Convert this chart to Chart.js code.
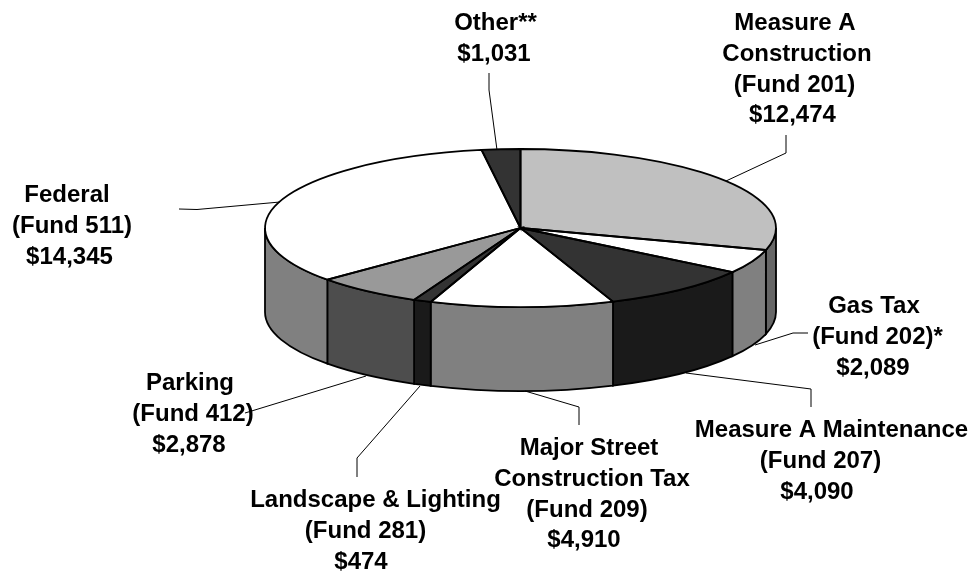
<!DOCTYPE html>
<html>
<head>
<meta charset="utf-8">
<title>Funding sources</title>
<script src="https://cdn.jsdelivr.net/npm/chart.js@4"></script>
<style>
    html, body { margin: 0; padding: 0; background: #fff; overflow: hidden; }
    canvas { display: block; }
</style>
</head>
<body>
<canvas id="fundChart" width="970" height="571"></canvas>
<script>
// Values (starting at 12 o'clock, clockwise)
const categories = ['Measure A Construction (Fund 201)', 'Gas Tax (Fund 202)*', 'Measure A Maintenance (Fund 207)',
    'Major Street Construction Tax (Fund 209)', 'Landscape & Lighting (Fund 281)', 'Parking (Fund 412)',
    'Federal (Fund 511)', 'Other**'];
const values = [12474, 2089, 4090, 4910, 474, 2878, 14345, 1031];
const topColors = ['#c0c0c0', '#ffffff', '#333333', '#ffffff', '#333333', '#999999', '#ffffff', '#333333'];
const sideColors = ['#666666', '#808080', '#1a1a1a', '#808080', '#1a1a1a', '#4d4d4d', '#808080', '#1a1a1a'];

// Label text, one list of lines per slice
const labelLines = [
    ['Measure A', 'Construction', '(Fund 201)', '$12,474'],
    ['Gas Tax', '(Fund 202)*', '$2,089'],
    ['Measure A Maintenance', '(Fund 207)', '$4,090'],
    ['Major Street', 'Construction Tax', '(Fund 209)', '$4,910'],
    ['Landscape & Lighting', '(Fund 281)', '$474'],
    ['Parking', '(Fund 412)', '$2,878'],
    ['Federal', '(Fund 511)', '$14,345'],
    ['Other**', '$1,031']
];
// the lines of a label don't share one centre in the picture, so each has its own
const labelCenterX = [
    [795, 797, 794.5, 792.5],
    [874, 877.5, 873],
    [831.5, 820.5, 817],
    [589, 592, 587, 584],
    [375.5, 365.5, 361],
    [190, 193, 189],
    [67, 72, 69.5],
    [495.5, 494]
];
const labelBaseY = [30, 313, 437, 455, 507, 390, 202, 30];
const labelLineGap = 30.8;

// Leader lines, from the label to the pie edge
const leaders = [
    [[786, 135], [786, 153], [726, 181]],
    [[808, 333], [793, 333], [755, 345]],
    [[811, 407], [811, 389], [686, 373]],
    [[579, 425], [579, 407], [525, 391]],
    [[357, 477], [357, 458], [420, 386]],
    [[245, 413], [366, 376]],
    [[179, 209], [197, 209.5], [280, 202]],
    [[489, 73], [489, 90], [497, 150]]
];

const PIE_X = 520.5, PIE_Y = 228, PIE_RX = 255.5, PIE_RY = 79, PIE_DEPTH = 84;

function sidePath(ctx, from, to) {
    ctx.beginPath();
    ctx.ellipse(PIE_X, PIE_Y, PIE_RX, PIE_RY, 0, from, to);
    ctx.ellipse(PIE_X, PIE_Y + PIE_DEPTH, PIE_RX, PIE_RY, 0, to, from, true);
    ctx.closePath();
}

const pie3d = {
    id: 'pie3d',
    beforeDatasetsDraw(chart) {
        const ctx = chart.ctx;
        const arcs = chart.getDatasetMeta(0).data;
        ctx.save();
        ctx.lineWidth = 1.8;
        ctx.strokeStyle = '#000';
        // rim of the pie, only the part facing the viewer
        arcs.forEach((arc, i) => {
            const from = Math.max(arc.startAngle, 0);
            const to = Math.min(arc.endAngle, Math.PI);
            if (to <= from) return;
            sidePath(ctx, from, to);
            ctx.fillStyle = sideColors[i];
            ctx.fill();
            ctx.stroke();
        });
        ctx.restore();
        // flatten the library's own arcs into the tilted top face
        const first = arcs[0];
        ctx.save();
        ctx.translate(PIE_X, PIE_Y);
        ctx.scale(PIE_RX / first.outerRadius, PIE_RY / first.outerRadius);
        ctx.translate(-first.x, -first.y);
    },
    afterDatasetsDraw(chart) {
        const ctx = chart.ctx;
        ctx.restore();
        const arcs = chart.getDatasetMeta(0).data;
        ctx.save();
        ctx.lineWidth = 1.8;
        ctx.strokeStyle = '#000';
        arcs.forEach(arc => {
            ctx.beginPath();
            ctx.moveTo(PIE_X, PIE_Y);
            ctx.ellipse(PIE_X, PIE_Y, PIE_RX, PIE_RY, 0, arc.startAngle, arc.endAngle);
            ctx.closePath();
            ctx.stroke();
        });
        ctx.lineWidth = 1;
        leaders.forEach(points => {
            ctx.beginPath();
            points.forEach((p, i) => i ? ctx.lineTo(p[0], p[1]) : ctx.moveTo(p[0], p[1]));
            ctx.stroke();
        });
        ctx.fillStyle = '#000';
        ctx.font = 'bold 24px "Liberation Sans", Arial, sans-serif';
        ctx.textAlign = 'center';
        ctx.textBaseline = 'alphabetic';
        labelLines.forEach((lines, i) => {
            lines.forEach((line, j) => {
                ctx.fillText(line, labelCenterX[i][j], labelBaseY[i] + j * labelLineGap);
            });
        });
        ctx.restore();
    }
};

new Chart(document.getElementById('fundChart').getContext('2d'), {
    type: 'pie',
    data: {
        labels: categories,
        datasets: [{
            data: values,
            backgroundColor: topColors,
            borderWidth: 0,
            hoverOffset: 0
        }]
    },
    options: {
        responsive: false,
        animation: false,
        events: [],
        layout: {
            padding: { left: 292.5, right: 221.5, top: 0, bottom: 115 }
        },
        plugins: {
            legend: { display: false },
            tooltip: { enabled: false }
        }
    },
    plugins: [pie3d]
});
</script>
</body>
</html>
